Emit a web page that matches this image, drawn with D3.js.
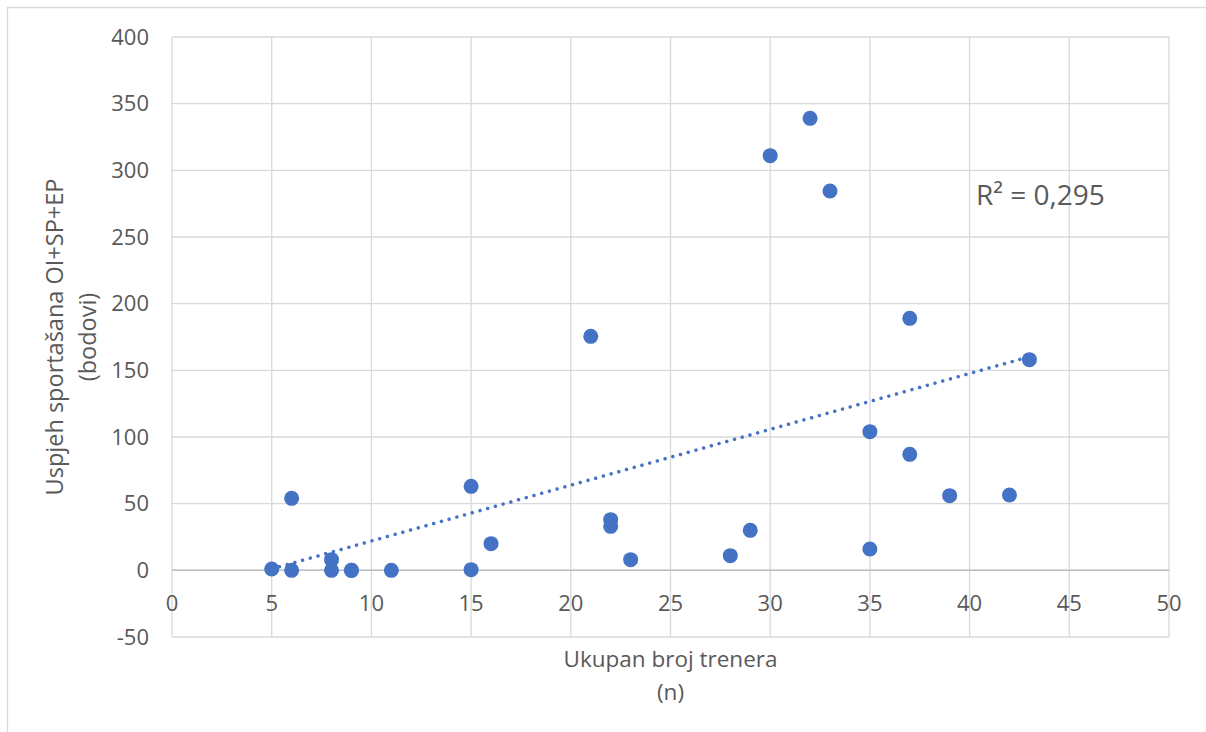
<!DOCTYPE html>
<html><head><meta charset="utf-8">
<script src="https://cdn.jsdelivr.net/npm/d3@7"></script>
<style>body{margin:0;background:#fff;} text{font-family:"Open Sans", Lato, sans-serif; fill:#595959;}</style>
</head><body>
<svg id="c" width="1206" height="732"></svg>
<script>
const xValues = [5, 6, 6, 8, 8, 9, 9, 11, 15, 15, 16, 21, 22, 22, 23, 28, 29, 30, 32, 33, 35, 35, 37, 37, 39, 42, 43];
const yValues = [1, 54, 0, 8, 0, 0, 0, 0, 63, 0.5, 20, 175.5, 38, 33, 8, 11, 30, 311, 339, 284.5, 104, 16, 189, 87, 56, 56.5, 158];
const xTicks = [0, 5, 10, 15, 20, 25, 30, 35, 40, 45, 50];
const yTicks = [-50, 0, 50, 100, 150, 200, 250, 300, 350, 400];
const xTitle = ["Ukupan broj trenera", "(n)"];
const yTitle = ["Uspjeh sportašana OI+SP+EP", "(bodovi)"];
const r2Label = "R² = 0,295";

const svg = d3.select("#c");
const L = 172, R = 1169, T = 37, B = 637;
const x = d3.scaleLinear().domain([0, 50]).range([L, R]);
const y = d3.scaleLinear().domain([-50, 400]).range([B, T]);

// outer frame (top and left edges visible)
svg.append("path").attr("d", "M7.5,732 L7.5,7.5 L1206,7.5").attr("fill", "none").attr("stroke", "#d9d9d9").attr("stroke-width", 1.3);

// gridlines
const g = svg.append("g");
g.selectAll("line.h").data(yTicks).join("line")
  .attr("x1", L).attr("x2", R).attr("y1", d => y(d)).attr("y2", d => y(d))
  .attr("stroke", d => d === 0 ? "#bfbfbf" : "#d9d9d9").attr("stroke-width", 1.3);
g.selectAll("line.v").data(xTicks).join("line")
  .attr("y1", T).attr("y2", B).attr("x1", d => x(d)).attr("x2", d => x(d))
  .attr("stroke", "#d9d9d9").attr("stroke-width", 1.3);
g.append("line").attr("x1", L).attr("x2", R).attr("y1", y(0)).attr("y2", y(0)).attr("stroke", "#bfbfbf").attr("stroke-width", 1.5);

// tick labels
svg.selectAll("text.yt").data(yTicks).join("text")
  .attr("x", 149).attr("y", d => y(d)).attr("dy", "0.35em").attr("text-anchor", "end")
  .attr("font-size", 22).text(d => d);
svg.selectAll("text.xt").data(xTicks).join("text")
  .attr("x", d => x(d)).attr("y", 611).attr("text-anchor", "middle")
  .attr("font-size", 22).text(d => d);

// axis titles
svg.append("text").attr("x", x(25)).attr("y", 667).attr("text-anchor", "middle").attr("font-size", 22.5).text(xTitle[0]);
svg.append("text").attr("x", x(25)).attr("y", 700).attr("text-anchor", "middle").attr("font-size", 22.5).text(xTitle[1]);
const cy = (T + B) / 2;
svg.append("text").attr("transform", `translate(63,${cy}) rotate(-90)`).attr("text-anchor", "middle").attr("font-size", 23.5).text(yTitle[0]);
svg.append("text").attr("transform", `translate(96,${cy}) rotate(-90)`).attr("text-anchor", "middle").attr("font-size", 23.5).text(yTitle[1]);

// linear trendline (least squares)
const n = xValues.length;
const mx = d3.mean(xValues), my = d3.mean(yValues);
let sxy = 0, sxx = 0;
for (let i = 0; i < n; i++) { sxy += (xValues[i] - mx) * (yValues[i] - my); sxx += (xValues[i] - mx) ** 2; }
const slope = sxy / sxx, icpt = my - slope * mx;
const x0 = d3.min(xValues), x1 = d3.max(xValues);
svg.append("line")
  .attr("x1", x(x0)).attr("y1", y(icpt + slope * x0))
  .attr("x2", x(x1)).attr("y2", y(icpt + slope * x1))
  .attr("stroke", "#4472C4").attr("stroke-width", 3.5)
  .attr("stroke-linecap", "round").attr("stroke-dasharray", "0.01 8");

// points
svg.selectAll("circle").data(xValues.map((d, i) => [d, yValues[i]])).join("circle")
  .attr("cx", d => x(d[0])).attr("cy", d => y(d[1])).attr("r", 7.5)
  .attr("fill", "#4472C4");

// R² label
svg.append("text").attr("x", 976).attr("y", 205).attr("font-size", 28).text(r2Label);
</script>
</body></html>
